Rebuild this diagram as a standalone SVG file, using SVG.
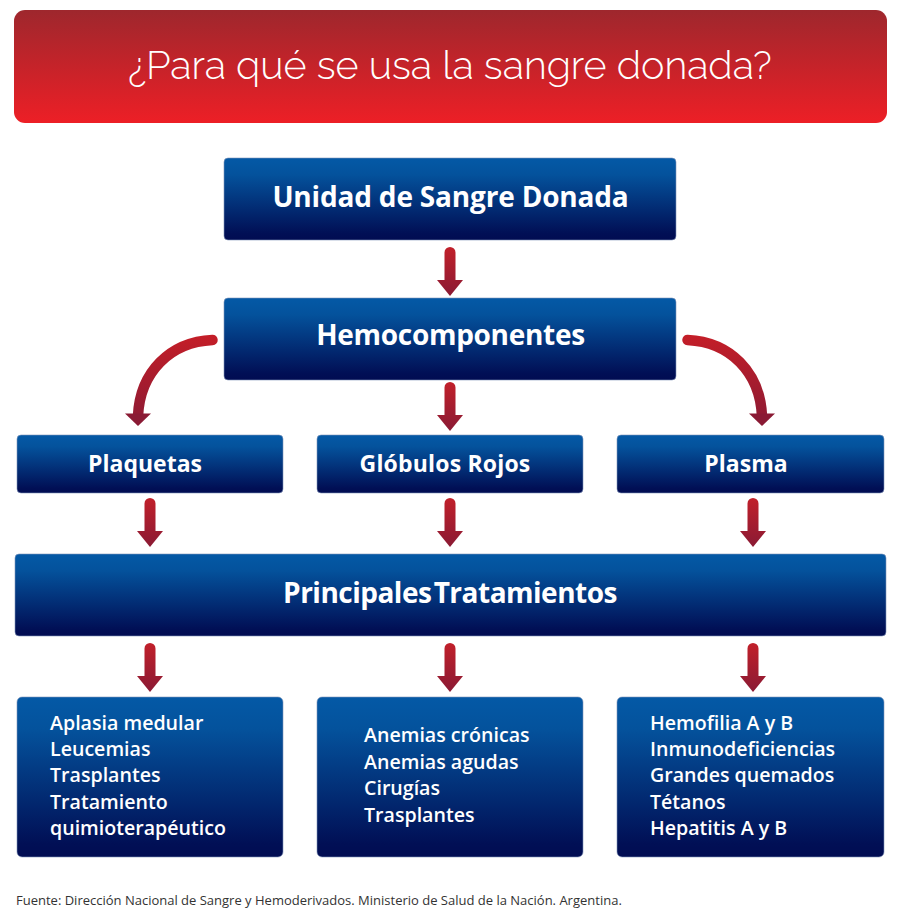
<svg xmlns="http://www.w3.org/2000/svg" width="900" height="920" viewBox="0 0 900 920">
<style>
.n{fill:url(#blue);stroke:#7f93b8;stroke-width:.6}
.h{font-family:"Open Sans","Liberation Sans",sans-serif;font-weight:700;fill:#fff;text-anchor:middle}
.b{font-family:"Open Sans","Liberation Sans",sans-serif;font-weight:600;fill:#fff;font-size:19.600px}
.a{fill:url(#arr)}
</style>
<defs>
<linearGradient id="blue" x1="0" y1="0" x2="0" y2="1"><stop offset="0" stop-color="#0459a6"/><stop offset=".2" stop-color="#04529c"/><stop offset=".92" stop-color="#010f55"/><stop offset="1" stop-color="#010c52"/></linearGradient>
<linearGradient id="red" x1="0" y1="0" x2="0" y2="1"><stop offset="0" stop-color="#9e272d"/><stop offset="1" stop-color="#ed1f26"/></linearGradient>
<linearGradient id="arr" x1="0" y1="0" x2="0" y2="1"><stop offset="0" stop-color="#c1202a"/><stop offset="1" stop-color="#8a1a34"/></linearGradient>
<linearGradient id="cl" gradientUnits="userSpaceOnUse" x1="0" y1="335" x2="0" y2="426"><stop offset="0" stop-color="#c41e28"/><stop offset="1" stop-color="#8a1a34"/></linearGradient>
<symbol id="down" overflow="visible"><path class="a" d="M-5.500 5.500a5.500 5.500 0 0 1 11 0V33H13L0 49-13 33H-5.500Z"/></symbol>
</defs>
<rect width="900" height="920" fill="#fff"/>
<g id="connectors">
<use href="#down" x="450" y="247"/>
<use href="#down" x="450" y="382"/>
<use href="#down" x="150" y="498"/>
<use href="#down" x="450" y="498"/>
<use href="#down" x="753" y="498"/>
<use href="#down" x="150" y="643"/>
<use href="#down" x="450" y="643"/>
<use href="#down" x="753" y="643"/>
<path d="M212.500 340C170 342 140 372 138 416" fill="none" stroke="url(#cl)" stroke-width="10.500" stroke-linecap="round"/>
<path d="M125 413.500H151L138 426Z" fill="#8a1a34"/>
<path d="M687.500 340C730 342 760 372 762 416" fill="none" stroke="url(#cl)" stroke-width="10.500" stroke-linecap="round"/>
<path d="M749 413.500H775L762 426Z" fill="#8a1a34"/>
</g>
<g id="title"><rect x="14" y="10" width="873" height="113" rx="11" fill="url(#red)"/><text x="450" y="79" font-family="Raleway,Lato,'Open Sans',sans-serif" font-weight="300" font-size="39.500" fill="#fff" text-anchor="middle">¿Para qué se usa la sangre donada?</text></g>
<g id="unidad"><rect class="n" x="224" y="158" width="452" height="82" rx="4"/><text class="h" x="450.500" y="207" font-size="28" letter-spacing="-.18">Unidad de Sangre Donada</text></g>
<g id="hemocomponentes"><rect class="n" x="224" y="298" width="452" height="82" rx="4"/><text class="h" x="450.500" y="345" font-size="28" letter-spacing="-.3">Hemocomponentes</text></g>
<g id="plaquetas"><rect class="n" x="17" y="435" width="266" height="58" rx="4"/><text class="h" x="145" y="472" font-size="23">Plaquetas</text></g>
<g id="globulos"><rect class="n" x="317" y="435" width="266" height="58" rx="4"/><text class="h" x="445" y="472" font-size="23" letter-spacing=".18">Glóbulos Rojos</text></g>
<g id="plasma"><rect class="n" x="617" y="435" width="267" height="58" rx="4"/><text class="h" x="746" y="472" font-size="23">Plasma</text></g>
<g id="tratamientos"><rect class="n" x="15" y="554" width="871" height="82" rx="4"/><text class="h" x="450" y="603" font-size="28" letter-spacing="-.5" word-spacing="-4.500">Principales Tratamientos</text></g>
<g id="t1"><rect class="n" x="17" y="697" width="266" height="160" rx="5"/><text class="b"><tspan x="50" y="729.500">Aplasia medular</tspan><tspan x="50" y="755.500">Leucemias</tspan><tspan x="50" y="782">Trasplantes</tspan><tspan x="50" y="808.500">Tratamiento</tspan><tspan x="50" y="835">quimioterapéutico</tspan></text></g>
<g id="t2"><rect class="n" x="317" y="697" width="266" height="160" rx="5"/><text class="b"><tspan x="364" y="742">Anemias crónicas</tspan><tspan x="364" y="768.500">Anemias agudas</tspan><tspan x="364" y="795">Cirugías</tspan><tspan x="364" y="821.500">Trasplantes</tspan></text></g>
<g id="t3"><rect class="n" x="617" y="697" width="267" height="160" rx="5"/><text class="b"><tspan x="650" y="729.500">Hemofilia A y B</tspan><tspan x="650" y="755.500">Inmunodeficiencias</tspan><tspan x="650" y="782">Grandes quemados</tspan><tspan x="650" y="808.500">Tétanos</tspan><tspan x="650" y="835">Hepatitis A y B</tspan></text></g>
<text id="fuente" x="16" y="905" font-family="'Open Sans','Liberation Sans',sans-serif" font-size="13" fill="#333">Fuente: Dirección Nacional de Sangre y Hemoderivados. Ministerio de Salud de la Nación. Argentina.</text>
</svg>
